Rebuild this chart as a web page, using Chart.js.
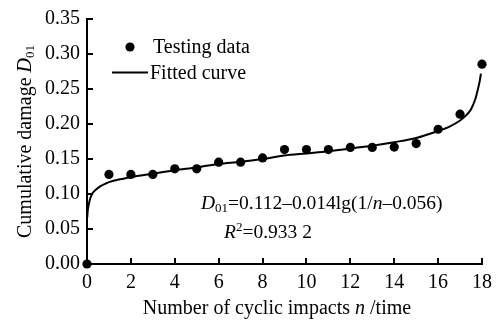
<!DOCTYPE html>
<html><head><meta charset="utf-8">
<script src="https://cdn.jsdelivr.net/npm/chart.js@4/dist/chart.umd.min.js"></script>
<style>html,body{margin:0;padding:0;background:#fff;}</style>
</head><body>
<canvas id="c" width="499" height="322"></canvas>
<script>
// ---- data ----
const impacts = [0,1,2,3,4,5,6,7,8,9,10,11,12,13,14,15,16,17,18];
const damage  = [0,0.128,0.128,0.128,0.136,0.136,0.1455,0.1455,0.1515,0.1635,0.1635,0.1635,0.1665,0.1665,0.167,0.172,0.1925,0.214,0.2855];
const fitN = [0.01,0.03,0.08,0.15,0.25,0.4,0.6,0.8,1,1.5,2,3,4,5,6,7,8,9,10,11,12,13,14,15,16,16.5,17,17.3,17.5,17.7,17.8,17.9,17.95];
const fitD = [0.066,0.075,0.085,0.094,0.101,0.106,0.111,0.114,0.117,0.121,0.124,0.129,0.134,0.138,0.143,0.146,0.150,0.155,0.158,0.161,0.165,0.169,0.174,0.180,0.190,0.196,0.205,0.213,0.221,0.236,0.248,0.262,0.272];
const xTicks = [0,2,4,6,8,10,12,14,16,18];
const yTicks = [0,0.05,0.10,0.15,0.20,0.25,0.30,0.35];
const legendLabels = ['Testing data','Fitted curve'];

const FONT = "'Liberation Serif','Times New Roman',serif";
const FS = 20;

function drawRich(ctx, segs, x, y, size, align) {
  const parts = segs.map(s => {
    const sz = (s.sub || s.sup) ? Math.round(size*0.66) : size;
    const f = (s.it ? 'italic ' : '') + sz + 'px ' + FONT;
    ctx.font = f;
    return {t:s.t, f, w:ctx.measureText(s.t).width, dy: s.sub ? size*0.17 : (s.sup ? -size*0.38 : 0)};
  });
  const total = parts.reduce((a,p)=>a+p.w,0);
  let cx = align === 'center' ? x - total/2 : x;
  ctx.textAlign = 'left';
  ctx.textBaseline = 'alphabetic';
  for (const p of parts) { ctx.font = p.f; ctx.fillText(p.t, cx, y + p.dy); cx += p.w; }
}

const decor = {
  id: 'decor',
  afterDraw(chart) {
    const ctx = chart.ctx, xs = chart.scales.x, ys = chart.scales.y, ca = chart.chartArea;
    ctx.save();
    ctx.strokeStyle = '#000'; ctx.lineWidth = 2;
    // inward tick marks
    for (const v of yTicks) { const p = Math.round(ys.getPixelForValue(v)); ctx.beginPath(); ctx.moveTo(ca.left, p); ctx.lineTo(ca.left+6, p); ctx.stroke(); }
    for (const v of xTicks) { const p = Math.round(xs.getPixelForValue(v)); ctx.beginPath(); ctx.moveTo(p, ca.bottom); ctx.lineTo(p, ca.bottom-6); ctx.stroke(); }
    ctx.fillStyle = '#000';
    // legend
    ctx.beginPath(); ctx.arc(130, 47, 4.6, 0, Math.PI*2); ctx.fill();
    ctx.beginPath(); ctx.moveTo(112, 72.5); ctx.lineTo(148, 72.5); ctx.stroke();
    drawRich(ctx, [{t:legendLabels[0]}], 153, 53, FS);
    drawRich(ctx, [{t:legendLabels[1]}], 150, 78.5, FS);
    // equation
    drawRich(ctx, [{t:'D',it:true},{t:'01',sub:true},{t:'=0.112–0.014lg(1/'},{t:'n',it:true},{t:'–0.056)'}], 201, 209, 19.5);
    drawRich(ctx, [{t:'R',it:true},{t:'2',sup:true},{t:'=0.933 2'}], 224, 238, 19.5);
    // x title
    drawRich(ctx, [{t:'Number of cyclic impacts '},{t:'n',it:true},{t:' /time'}], 277, 314, FS, 'center');
    // y title
    ctx.translate(31, (ca.top+ca.bottom)/2);
    ctx.rotate(-Math.PI/2);
    drawRich(ctx, [{t:'Cumulative damage '},{t:'D',it:true},{t:'01',sub:true}], 0, 0, FS, 'center');
    ctx.restore();
  }
};

new Chart(document.getElementById('c'), {
  type: 'scatter',
  data: {
    datasets: [
      { label: legendLabels[0], data: impacts.map((n,i)=>({x:n, y:damage[i]})), pointRadius: 4.6, pointHoverRadius: 4.6,
        backgroundColor: '#000', borderColor: '#000', borderWidth: 0, showLine: false, clip: false, order: 0 },
      { label: legendLabels[1], data: fitN.map((n,i)=>({x:n, y:fitD[i]})), showLine: true, pointRadius: 0,
        borderColor: '#000', borderWidth: 2, cubicInterpolationMode: 'monotone', fill: false, clip: false, order: 1 }
    ]
  },
  options: {
    responsive: false, animation: false, devicePixelRatio: 1,
    layout: { padding: { top: 16, right: 14, left: 0, bottom: 0 } },
    plugins: { legend: { display: false }, tooltip: { enabled: false } },
    scales: {
      x: { type: 'linear', min: 0, max: 18,
        afterBuildTicks: s => { s.ticks = xTicks.map(v=>({value:v})); },
        afterFit: s => { s.height = 58; },
        ticks: { color: '#000', font: { family: FONT, size: FS }, padding: 7, maxRotation: 0, autoSkip: false },
        grid: { display: false, drawTicks: false },
        border: { display: true, color: '#000', width: 2 } },
      y: { type: 'linear', min: 0, max: 0.35,
        afterBuildTicks: s => { s.ticks = yTicks.map(v=>({value:v})); },
        afterFit: s => { s.width = 87; },
        ticks: { color: '#000', font: { family: FONT, size: FS }, padding: 7, autoSkip: false, callback: v => Number(v).toFixed(2) },
        grid: { display: false, drawTicks: false },
        border: { display: true, color: '#000', width: 2 } }
    }
  },
  plugins: [decor]
});
</script>
</body></html>
